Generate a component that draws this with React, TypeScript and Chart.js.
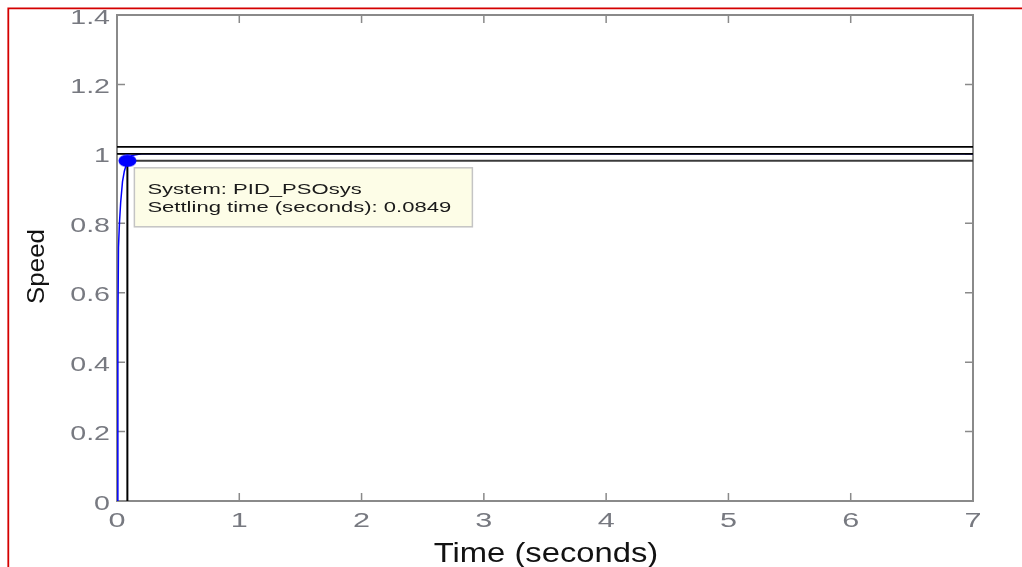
import { useEffect, useRef } from "react";
import { Chart, registerables } from "chart.js";

Chart.register(...registerables);

// ---- data ----
const respTime = [0, 0.006, 0.008, 0.012, 0.02, 0.03, 0.045, 0.06, 0.0849, 0.12, 0.2, 0.4, 1, 3, 7];
const respSpeed = [0, 0.02, 0.49, 0.73, 0.8, 0.86, 0.92, 0.95, 0.98, 0.995, 1.0, 1.0, 1.0, 1.0, 1.0];

const settleTime = 0.0849;
const settleValue = 0.98;
const bandUpper = 1.02;
const finalValue = 1.0;
const bandLower = 0.98;
const timeEnd = 7;

const xTicks = [0, 1, 2, 3, 4, 5, 6, 7];
const xTickLabels = ["0", "1", "2", "3", "4", "5", "6", "7"];
const yTicks = [0, 0.2, 0.4, 0.6, 0.8, 1, 1.2, 1.4];
const yTickLabels = ["0", "0.2", "0.4", "0.6", "0.8", "1", "1.2", "1.4"];

const xTitle = "Time (seconds)";
const yTitle = "Speed";
const tipLines = ["System: PID_PSOsys", "Settling time (seconds): 0.0849"];

const FONT = "'Liberation Sans', Arial, Helvetica, sans-serif";

function drawText(
  ctx: CanvasRenderingContext2D,
  text: string,
  x: number,
  y: number,
  size: number,
  sx: number,
  align: CanvasTextAlign,
  color: string,
  rotate = 0
) {
  ctx.save();
  ctx.translate(x, y);
  if (rotate) ctx.rotate(rotate);
  ctx.scale(sx, 1);
  ctx.font = `${size}px ${FONT}`;
  ctx.textAlign = align;
  ctx.textBaseline = "alphabetic";
  ctx.fillStyle = color;
  ctx.fillText(text, 0, 0);
  ctx.restore();
}

const framePlugin = {
  id: "matlabFrame",
  beforeDatasetsDraw(chart: any) {
    const { ctx, chartArea } = chart;
    const { left, right, top, bottom } = chartArea;
    const xs = chart.scales.x;
    const ys = chart.scales.y;
    ctx.save();
    ctx.strokeStyle = "#8a8a8a";
    ctx.lineWidth = 2;
    ctx.strokeRect(left, top, right - left, bottom - top);
    ctx.lineWidth = 1.5;
    const tl = 8;
    ctx.beginPath();
    xTicks.forEach((v) => {
      const px = xs.getPixelForValue(v);
      ctx.moveTo(px, bottom);
      ctx.lineTo(px, bottom - tl);
      ctx.moveTo(px, top);
      ctx.lineTo(px, top + tl);
    });
    yTicks.forEach((v) => {
      const py = ys.getPixelForValue(v);
      ctx.moveTo(left, py);
      ctx.lineTo(left + tl, py);
      ctx.moveTo(right, py);
      ctx.lineTo(right - tl, py);
    });
    ctx.stroke();
    ctx.restore();
  },
  afterDraw(chart: any) {
    const { ctx, chartArea } = chart;
    const { left, right, bottom } = chartArea;
    const xs = chart.scales.x;
    const ys = chart.scales.y;
    const tickColor = "#777980";

    // tick labels
    yTicks.forEach((v, i) => {
      const py = ys.getPixelForValue(v);
      drawText(ctx, yTickLabels[i], left - 7, py + 8.5, 20, 1.43, "right", tickColor);
    });
    xTicks.forEach((v, i) => {
      const px = xs.getPixelForValue(v);
      drawText(ctx, xTickLabels[i], px, bottom + 25.7, 20, 1.53, "center", tickColor);
    });

    // axis titles
    drawText(ctx, xTitle, (left + right) / 2 + 1, 561.5, 28, 1.17, "center", "#121212");
    drawText(ctx, yTitle, 43.5, 266.5, 24, 1.08, "center", "#121212", -Math.PI / 2);

    // data tip
    const dx = xs.getPixelForValue(settleTime);
    const dy = ys.getPixelForValue(settleValue);
    const bx = dx + 7;
    const by = dy + 7;
    const bw = 338;
    const bh = 59;
    ctx.save();
    ctx.fillStyle = "#fdfde7";
    ctx.fillRect(bx, by, bw, bh);
    ctx.strokeStyle = "#c4c4c4";
    ctx.lineWidth = 1.5;
    ctx.strokeRect(bx, by, bw, bh);
    ctx.restore();
    drawText(ctx, tipLines[0], bx + 13, by + 26.5, 14.5, 1.52, "left", "#1a1a1a");
    drawText(ctx, tipLines[1], bx + 13, by + 44.5, 14.5, 1.52, "left", "#1a1a1a");

    // red outer frame
    ctx.save();
    ctx.strokeStyle = "#d40000";
    ctx.lineWidth = 1.8;
    ctx.beginPath();
    ctx.moveTo(1022, 8.3);
    ctx.lineTo(8.3, 8.3);
    ctx.lineTo(8.3, 567);
    ctx.stroke();
    ctx.restore();
  },
};

export default function App() {
  const ref = useRef<HTMLCanvasElement | null>(null);

  useEffect(() => {
    if (!ref.current) return;
    const dot = document.createElement("canvas");
    dot.width = 19;
    dot.height = 13;
    const dctx = dot.getContext("2d")!;
    dctx.fillStyle = "#0000ff";
    dctx.beginPath();
    dctx.ellipse(9.5, 6.5, 9, 6.2, 0, 0, Math.PI * 2);
    dctx.fill();

    const response = respTime.map((t, i) => ({ x: t, y: respSpeed[i] }));

    const chart = new Chart(ref.current, {
      type: "line",
      data: {
        datasets: [
          {
            label: "upper",
            data: [{ x: 0, y: bandUpper }, { x: timeEnd, y: bandUpper }],
            borderColor: "#000000",
            borderWidth: 1.8,
            pointRadius: 0,
            order: 1,
          },
          {
            label: "final",
            data: [{ x: 0, y: finalValue }, { x: timeEnd, y: finalValue }],
            borderColor: "#000000",
            borderWidth: 1.8,
            pointRadius: 0,
            order: 1,
          },
          {
            label: "lower",
            data: [{ x: settleTime, y: bandLower }, { x: timeEnd, y: bandLower }],
            borderColor: "#3c3c3c",
            borderWidth: 2,
            pointRadius: 0,
            order: 1,
          },
          {
            label: "settle-v",
            data: [{ x: settleTime, y: settleValue }, { x: settleTime, y: 0 }],
            borderColor: "#000000",
            borderWidth: 2,
            pointRadius: 0,
            order: 1,
          },
          {
            label: "PID_PSOsys",
            data: response,
            borderColor: "#0000ff",
            borderWidth: 1.5,
            pointRadius: 0,
            tension: 0,
            order: 2,
          },
          {
            label: "marker",
            data: [{ x: settleTime, y: settleValue }],
            showLine: false,
            pointStyle: dot as any,
            pointRadius: 7,
            order: 0,
          },
        ],
      },
      options: {
        animation: false,
        responsive: true,
        maintainAspectRatio: false,
        layout: { padding: { left: 0, top: 15, right: 49, bottom: 0 } },
        plugins: {
          legend: { display: false },
          tooltip: { enabled: false },
        },
        events: [],
        scales: {
          x: {
            type: "linear",
            min: 0,
            max: timeEnd,
            afterBuildTicks: (s: any) => {
              s.ticks = xTicks.map((v) => ({ value: v }));
            },
            afterFit: (s: any) => {
              s.height = 66;
            },
            ticks: { display: false },
            grid: { display: false },
            border: { display: false },
          },
          y: {
            type: "linear",
            min: 0,
            max: 1.4,
            afterBuildTicks: (s: any) => {
              s.ticks = yTicks.map((v) => ({ value: v }));
            },
            afterFit: (s: any) => {
              s.width = 117;
            },
            ticks: { display: false },
            grid: { display: false },
            border: { display: false },
          },
        },
      },
      plugins: [framePlugin],
    });
    return () => chart.destroy();
  }, []);

  return (
    <div style={{ position: "absolute", left: 0, top: 0, width: 1022, height: 567, background: "#ffffff" }}>
      <canvas ref={ref} />
    </div>
  );
}
